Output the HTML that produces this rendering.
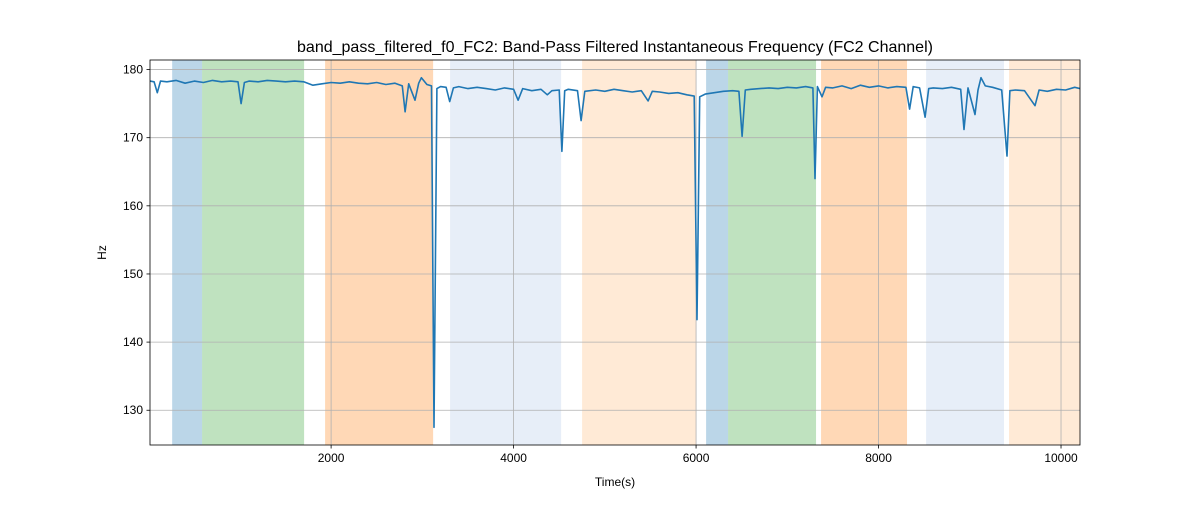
<!DOCTYPE html>
<html><head><meta charset="utf-8"><style>
body{margin:0;background:#fff;font-family:"Liberation Sans",sans-serif}
</style></head><body>
<svg id="chart" width="1200" height="500" xmlns="http://www.w3.org/2000/svg"></svg>
<script>
const spanStarts=[258,586,1934,3304,4751,6110,6351,7370,8521,9430];
const spanEnds=[586,1704,3118,4521,6000,6351,7315,8312,9375,10208];
const spanColors=['#1f77b4','#2ca02c','#ff7f0e','#aec7e8','#ffbb78','#1f77b4','#2ca02c','#ff7f0e','#aec7e8','#ffbb78'];
const spanAlphas=[0.3,0.3,0.3,0.3,0.3,0.3,0.3,0.3,0.3,0.3];
const times=[15,60,95,130,200,300,400,500,600,700,800,900,980,1014,1050,1100,1200,1300,1400,1500,1600,1700,1800,1900,2000,2100,2200,2300,2400,2500,2600,2700,2780,2811,2850,2920,2960,2990,3050,3100,3128,3160,3200,3260,3300,3340,3400,3500,3600,3700,3800,3900,4000,4050,4100,4200,4300,4370,4420,4500,4530,4560,4600,4700,4740,4780,4900,5000,5100,5200,5300,5400,5474,5520,5600,5700,5800,5900,5980,6010,6040,6100,6200,6300,6400,6470,6504,6540,6600,6700,6800,6900,7000,7100,7200,7280,7304,7330,7380,7420,7500,7600,7700,7800,7900,8000,8100,8200,8300,8340,8380,8450,8510,8550,8600,8700,8800,8900,8937,8980,9057,9090,9123,9170,9250,9350,9408,9440,9500,9600,9715,9760,9850,9950,10050,10150,10208];
const values=[178.3,178.2,176.6,178.3,178.2,178.4,178.0,178.3,178.1,178.4,178.2,178.3,178.2,175.0,178.1,178.3,178.2,178.4,178.3,178.2,178.3,178.2,177.7,177.9,178.1,178.0,178.2,178.0,177.9,178.1,177.8,178.0,177.6,173.8,177.9,175.5,178.0,178.8,177.8,177.6,127.5,177.2,177.5,177.4,175.3,177.3,177.5,177.2,177.4,177.2,177.0,177.3,177.1,175.5,177.2,176.9,177.1,176.3,176.9,177.0,168.0,176.9,177.1,176.9,172.5,176.8,177.0,176.8,177.1,176.9,176.7,176.9,175.4,176.8,176.7,176.5,176.6,176.3,176.1,143.3,176.0,176.4,176.6,176.8,176.9,176.8,170.2,177.0,177.1,177.2,177.3,177.2,177.4,177.3,177.5,177.3,164.0,177.5,176.0,177.4,177.3,177.6,177.2,177.7,177.4,177.6,177.3,177.5,177.4,174.2,177.5,177.3,173.0,177.2,177.3,177.2,177.4,177.1,171.2,177.3,173.4,177.0,178.8,177.6,177.4,177.0,167.3,176.9,177.0,176.9,174.7,177.0,176.8,177.1,177.0,177.4,177.2];
const xTicks=[2000,4000,6000,8000,10000];
const yTicks=[130,140,150,160,170,180];
const L=150,R=1080,T=60,B=445,X0=15,X1=10208,Y0=124.9,Y1=181.4;
const sx=v=>L+(v-X0)/(X1-X0)*(R-L), sy=v=>B-(v-Y0)/(Y1-Y0)*(B-T);
const svg=document.getElementById('chart');const NS='http://www.w3.org/2000/svg';
function mk(t,a,p){const e=document.createElementNS(NS,t);for(const k in a)e.setAttribute(k,a[k]);(p||svg).appendChild(e);return e;}
const clip=mk('clipPath',{id:'c'});mk('rect',{x:L,y:T,width:R-L,height:B-T},clip);
for(let i=0;i<spanStarts.length;i++){const r=mk('rect',{x:sx(spanStarts[i]),y:T,width:sx(spanEnds[i])-sx(spanStarts[i]),height:B-T,fill:spanColors[i],'fill-opacity':spanAlphas[i],'clip-path':'url(#c)'});

}
xTicks.forEach(v=>{const x=sx(v);const g=mk('line',{x1:x,x2:x,y1:T,y2:B,stroke:'#b0b0b0','stroke-width':0.8});


mk('line',{x1:x,x2:x,y1:B,y2:B+3.5,stroke:'#000','stroke-width':0.8});
const t=mk('text',{x:x,y:B+17,'font-size':12,'text-anchor':'middle'});t.textContent=v;

});
yTicks.forEach(v=>{const y=sy(v);const g=mk('line',{x1:L,x2:R,y1:y,y2:y,stroke:'#b0b0b0','stroke-width':0.8});


mk('line',{x1:L-3.5,x2:L,y1:y,y2:y,stroke:'#000','stroke-width':0.8});
const t=mk('text',{x:L-7,y:y+4,'font-size':12,'text-anchor':'end'});t.textContent=v;

});
const d=times.map((t,i)=>(i?'L':'M')+sx(t).toFixed(1)+','+sy(values[i]).toFixed(1)).join('');
const p=mk('path',{d:d,fill:'none',stroke:'#1f77b4','stroke-width':1.6,'stroke-linejoin':'round','clip-path':'url(#c)'});


const f=mk('rect',{x:L,y:T,width:R-L,height:B-T,fill:'none',stroke:'#000','stroke-width':0.8});


const ti=mk('text',{x:(L+R)/2,y:52,'font-size':16,'text-anchor':'middle'});ti.textContent='band_pass_filtered_f0_FC2: Band-Pass Filtered Instantaneous Frequency (FC2 Channel)';


const xl=mk('text',{x:(L+R)/2,y:486,'font-size':12,'text-anchor':'middle'});xl.textContent='Time(s)';


const yl=mk('text',{x:106,y:(T+B)/2,'font-size':12,'text-anchor':'middle',transform:'rotate(-90 106 '+(T+B)/2+')'});yl.textContent='Hz';


</script>
</body></html>
